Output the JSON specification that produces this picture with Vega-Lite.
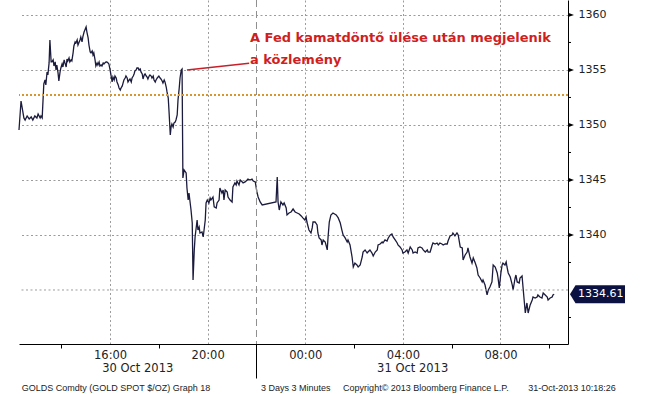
{
"$schema": "https://vega.github.io/schema/vega-lite/v6.json",
"width": 549, "height": 344,
"autosize": {"type": "none"},
"padding": {"left": 19, "top": 0, "right": 77, "bottom": 50},
"background": "white",
"config": {"view": {"stroke": null}, "font": "DejaVu Sans"},
"datasets": {
"gold": [
{"t":"2013-10-30T12:16Z","v":1349.55},{"t":"2013-10-30T12:21Z","v":1352.18},{"t":"2013-10-30T12:28Z","v":1350.64},{"t":"2013-10-30T12:31Z","v":1350.45},{"t":"2013-10-30T12:36Z","v":1350.82},{"t":"2013-10-30T12:41Z","v":1350.55},{"t":"2013-10-30T12:46Z","v":1350.73},{"t":"2013-10-30T12:50Z","v":1350.45},{"t":"2013-10-30T12:55Z","v":1350.82},{"t":"2013-10-30T13:00Z","v":1350.64},{"t":"2013-10-30T13:03Z","v":1351.00},{"t":"2013-10-30T13:08Z","v":1350.64},{"t":"2013-10-30T13:10Z","v":1350.82},{"t":"2013-10-30T13:13Z","v":1350.64},
{"t":"2013-10-30T13:17Z","v":1353.73},{"t":"2013-10-30T13:20Z","v":1354.09},{"t":"2013-10-30T13:22Z","v":1353.64},{"t":"2013-10-30T13:25Z","v":1354.82},{"t":"2013-10-30T13:27Z","v":1354.55},{"t":"2013-10-30T13:30Z","v":1355.64},{"t":"2013-10-30T13:32Z","v":1357.73},{"t":"2013-10-30T13:35Z","v":1355.73},{"t":"2013-10-30T13:37Z","v":1355.73},{"t":"2013-10-30T13:40Z","v":1355.91},{"t":"2013-10-30T13:42Z","v":1355.36},{"t":"2013-10-30T13:45Z","v":1355.73},{"t":"2013-10-30T13:47Z","v":1355.00},{"t":"2013-10-30T13:49Z","v":1355.45},{"t":"2013-10-30T13:52Z","v":1354.73},{"t":"2013-10-30T13:54Z","v":1354.00},{"t":"2013-10-30T13:57Z","v":1354.82},{"t":"2013-10-30T13:59Z","v":1355.18},
{"t":"2013-10-30T14:02Z","v":1355.55},{"t":"2013-10-30T14:04Z","v":1355.27},{"t":"2013-10-30T14:07Z","v":1355.91},{"t":"2013-10-30T14:09Z","v":1355.64},{"t":"2013-10-30T14:12Z","v":1355.27},{"t":"2013-10-30T14:14Z","v":1356.00},{"t":"2013-10-30T14:16Z","v":1355.82},{"t":"2013-10-30T14:19Z","v":1356.09},{"t":"2013-10-30T14:21Z","v":1355.73},{"t":"2013-10-30T14:24Z","v":1355.91},{"t":"2013-10-30T14:26Z","v":1355.82},{"t":"2013-10-30T14:29Z","v":1356.55},{"t":"2013-10-30T14:31Z","v":1357.18},{"t":"2013-10-30T14:34Z","v":1357.55},{"t":"2013-10-30T14:36Z","v":1357.45},{"t":"2013-10-30T14:39Z","v":1357.73},{"t":"2013-10-30T14:41Z","v":1357.27},{"t":"2013-10-30T14:44Z","v":1357.55},{"t":"2013-10-30T14:46Z","v":1357.73},{"t":"2013-10-30T14:48Z","v":1358.00},{"t":"2013-10-30T14:51Z","v":1357.55},{"t":"2013-10-30T14:53Z","v":1358.00},{"t":"2013-10-30T14:56Z","v":1358.45},{"t":"2013-10-30T14:58Z","v":1358.64},
{"t":"2013-10-30T15:01Z","v":1358.91},{"t":"2013-10-30T15:03Z","v":1358.45},{"t":"2013-10-30T15:06Z","v":1357.91},{"t":"2013-10-30T15:08Z","v":1357.27},{"t":"2013-10-30T15:11Z","v":1356.64},{"t":"2013-10-30T15:13Z","v":1356.55},{"t":"2013-10-30T15:16Z","v":1356.73},{"t":"2013-10-30T15:18Z","v":1356.36},{"t":"2013-10-30T15:20Z","v":1356.55},{"t":"2013-10-30T15:23Z","v":1355.91},{"t":"2013-10-30T15:25Z","v":1355.36},{"t":"2013-10-30T15:28Z","v":1355.64},{"t":"2013-10-30T15:30Z","v":1355.45},{"t":"2013-10-30T15:33Z","v":1355.73},{"t":"2013-10-30T15:35Z","v":1355.36},{"t":"2013-10-30T15:38Z","v":1355.45},{"t":"2013-10-30T15:40Z","v":1355.36},{"t":"2013-10-30T15:43Z","v":1355.64},{"t":"2013-10-30T15:45Z","v":1355.55},{"t":"2013-10-30T15:47Z","v":1355.64},{"t":"2013-10-30T15:50Z","v":1355.73},{"t":"2013-10-30T15:52Z","v":1355.73},{"t":"2013-10-30T15:55Z","v":1355.64},{"t":"2013-10-30T15:57Z","v":1355.55},
{"t":"2013-10-30T16:00Z","v":1355.00},{"t":"2013-10-30T16:05Z","v":1353.91},{"t":"2013-10-30T16:07Z","v":1354.36},{"t":"2013-10-30T16:10Z","v":1354.09},{"t":"2013-10-30T16:12Z","v":1354.45},{"t":"2013-10-30T16:15Z","v":1354.27},{"t":"2013-10-30T16:17Z","v":1353.91},{"t":"2013-10-30T16:20Z","v":1353.64},{"t":"2013-10-30T16:22Z","v":1353.36},{"t":"2013-10-30T16:25Z","v":1353.18},{"t":"2013-10-30T16:27Z","v":1353.36},{"t":"2013-10-30T16:30Z","v":1353.55},{"t":"2013-10-30T16:32Z","v":1353.82},{"t":"2013-10-30T16:34Z","v":1354.09},{"t":"2013-10-30T16:37Z","v":1354.27},{"t":"2013-10-30T16:39Z","v":1354.45},{"t":"2013-10-30T16:42Z","v":1354.27},{"t":"2013-10-30T16:44Z","v":1353.91},{"t":"2013-10-30T16:47Z","v":1354.09},{"t":"2013-10-30T16:49Z","v":1354.18},{"t":"2013-10-30T16:52Z","v":1353.91},{"t":"2013-10-30T16:54Z","v":1354.27},{"t":"2013-10-30T16:57Z","v":1354.45},{"t":"2013-10-30T16:59Z","v":1354.64},
{"t":"2013-10-30T17:01Z","v":1354.91},{"t":"2013-10-30T17:04Z","v":1355.00},{"t":"2013-10-30T17:06Z","v":1355.18},{"t":"2013-10-30T17:09Z","v":1355.18},{"t":"2013-10-30T17:11Z","v":1355.00},{"t":"2013-10-30T17:14Z","v":1355.09},{"t":"2013-10-30T17:16Z","v":1354.82},{"t":"2013-10-30T17:19Z","v":1354.64},{"t":"2013-10-30T17:21Z","v":1354.18},{"t":"2013-10-30T17:24Z","v":1354.55},{"t":"2013-10-30T17:26Z","v":1354.64},{"t":"2013-10-30T17:29Z","v":1354.45},{"t":"2013-10-30T17:31Z","v":1354.36},{"t":"2013-10-30T17:33Z","v":1354.18},{"t":"2013-10-30T17:36Z","v":1354.45},{"t":"2013-10-30T17:38Z","v":1354.55},{"t":"2013-10-30T17:41Z","v":1354.45},{"t":"2013-10-30T17:43Z","v":1354.27},{"t":"2013-10-30T17:46Z","v":1354.45},{"t":"2013-10-30T17:48Z","v":1354.09},{"t":"2013-10-30T17:51Z","v":1353.91},{"t":"2013-10-30T17:53Z","v":1354.09},{"t":"2013-10-30T17:56Z","v":1354.27},{"t":"2013-10-30T17:58Z","v":1354.36},
{"t":"2013-10-30T18:00Z","v":1354.45},{"t":"2013-10-30T18:03Z","v":1354.27},{"t":"2013-10-30T18:05Z","v":1354.18},{"t":"2013-10-30T18:08Z","v":1354.00},{"t":"2013-10-30T18:10Z","v":1353.82},{"t":"2013-10-30T18:13Z","v":1354.09},{"t":"2013-10-30T18:15Z","v":1353.91},{"t":"2013-10-30T18:18Z","v":1353.45},{"t":"2013-10-30T18:20Z","v":1353.00},{"t":"2013-10-30T18:23Z","v":1352.45},{"t":"2013-10-30T18:25Z","v":1351.18},{"t":"2013-10-30T18:28Z","v":1349.09},{"t":"2013-10-30T18:30Z","v":1349.82},{"t":"2013-10-30T18:32Z","v":1350.09},{"t":"2013-10-30T18:35Z","v":1349.82},{"t":"2013-10-30T18:37Z","v":1350.18},{"t":"2013-10-30T18:40Z","v":1350.27},{"t":"2013-10-30T18:42Z","v":1350.45},{"t":"2013-10-30T18:45Z","v":1350.91},{"t":"2013-10-30T18:47Z","v":1352.27},{"t":"2013-10-30T18:50Z","v":1353.36},{"t":"2013-10-30T18:52Z","v":1354.27},{"t":"2013-10-30T18:55Z","v":1355.00},{"t":"2013-10-30T18:57Z","v":1355.09},
{"t":"2013-10-30T18:59Z","v":1345.18},{"t":"2013-10-30T19:02Z","v":1345.91},{"t":"2013-10-30T19:07Z","v":1345.64},{"t":"2013-10-30T19:09Z","v":1344.27},{"t":"2013-10-30T19:12Z","v":1343.18},{"t":"2013-10-30T19:14Z","v":1343.82},{"t":"2013-10-30T19:19Z","v":1342.27},{"t":"2013-10-30T19:22Z","v":1341.09},{"t":"2013-10-30T19:24Z","v":1335.91},{"t":"2013-10-30T19:27Z","v":1338.64},{"t":"2013-10-30T19:29Z","v":1339.82},{"t":"2013-10-30T19:34Z","v":1341.36},{"t":"2013-10-30T19:36Z","v":1340.45},{"t":"2013-10-30T19:39Z","v":1340.73},{"t":"2013-10-30T19:41Z","v":1340.18},{"t":"2013-10-30T19:46Z","v":1340.27},{"t":"2013-10-30T19:49Z","v":1339.82},{"t":"2013-10-30T19:54Z","v":1341.36},{"t":"2013-10-30T19:56Z","v":1342.91},{"t":"2013-10-30T19:59Z","v":1343.18},
{"t":"2013-10-30T20:03Z","v":1342.91},{"t":"2013-10-30T20:06Z","v":1343.36},{"t":"2013-10-30T20:08Z","v":1343.18},{"t":"2013-10-30T20:13Z","v":1343.45},{"t":"2013-10-30T20:16Z","v":1342.55},{"t":"2013-10-30T20:21Z","v":1342.45},{"t":"2013-10-30T20:23Z","v":1342.91},{"t":"2013-10-30T20:28Z","v":1343.18},{"t":"2013-10-30T20:30Z","v":1344.27},{"t":"2013-10-30T20:35Z","v":1343.82},{"t":"2013-10-30T20:38Z","v":1344.09},{"t":"2013-10-30T20:40Z","v":1343.18},{"t":"2013-10-30T20:43Z","v":1344.09},{"t":"2013-10-30T20:48Z","v":1343.91},{"t":"2013-10-30T20:50Z","v":1343.45},{"t":"2013-10-30T20:55Z","v":1343.18},
{"t":"2013-10-30T21:00Z","v":1343.00},{"t":"2013-10-30T21:02Z","v":1344.36},{"t":"2013-10-30T21:07Z","v":1344.73},{"t":"2013-10-30T21:10Z","v":1344.55},{"t":"2013-10-30T21:12Z","v":1344.91},{"t":"2013-10-30T21:17Z","v":1344.55},{"t":"2013-10-30T21:20Z","v":1345.00},{"t":"2013-10-30T21:25Z","v":1344.82},{"t":"2013-10-30T21:27Z","v":1344.73},{"t":"2013-10-30T21:32Z","v":1344.82},{"t":"2013-10-30T21:37Z","v":1345.00},{"t":"2013-10-30T21:39Z","v":1345.09},{"t":"2013-10-30T21:44Z","v":1345.00},{"t":"2013-10-30T21:49Z","v":1345.09},{"t":"2013-10-30T21:52Z","v":1344.91},{"t":"2013-10-30T21:57Z","v":1344.82},
{"t":"2013-10-30T22:01Z","v":1343.91},{"t":"2013-10-30T22:04Z","v":1343.45},{"t":"2013-10-30T22:09Z","v":1343.00},{"t":"2013-10-30T22:14Z","v":1342.73},{"t":"2013-10-30T22:48Z","v":1343.00},{"t":"2013-10-30T22:51Z","v":1345.27},{"t":"2013-10-30T22:53Z","v":1343.00},{"t":"2013-10-30T22:56Z","v":1342.27},{"t":"2013-10-30T23:00Z","v":1343.00},{"t":"2013-10-30T23:05Z","v":1342.73},{"t":"2013-10-30T23:08Z","v":1342.91},{"t":"2013-10-30T23:13Z","v":1342.45},{"t":"2013-10-30T23:15Z","v":1341.82},{"t":"2013-10-30T23:20Z","v":1342.00},{"t":"2013-10-30T23:25Z","v":1342.09},{"t":"2013-10-30T23:30Z","v":1342.36},{"t":"2013-10-30T23:35Z","v":1342.09},{"t":"2013-10-30T23:40Z","v":1342.00},{"t":"2013-10-30T23:45Z","v":1341.91},{"t":"2013-10-30T23:50Z","v":1341.73},{"t":"2013-10-30T23:54Z","v":1341.55},{"t":"2013-10-30T23:59Z","v":1341.36},
{"t":"2013-10-31T00:02Z","v":1341.64},{"t":"2013-10-31T00:04Z","v":1341.18},{"t":"2013-10-31T00:09Z","v":1340.45},{"t":"2013-10-31T00:14Z","v":1340.18},{"t":"2013-10-31T00:17Z","v":1340.64},{"t":"2013-10-31T00:19Z","v":1341.18},{"t":"2013-10-31T00:24Z","v":1341.18},{"t":"2013-10-31T00:29Z","v":1340.91},{"t":"2013-10-31T00:31Z","v":1340.18},{"t":"2013-10-31T00:34Z","v":1339.73},{"t":"2013-10-31T00:39Z","v":1339.55},{"t":"2013-10-31T00:41Z","v":1339.09},{"t":"2013-10-31T00:44Z","v":1339.55},{"t":"2013-10-31T00:49Z","v":1339.36},{"t":"2013-10-31T00:54Z","v":1338.64},{"t":"2013-10-31T00:56Z","v":1339.82},{"t":"2013-10-31T00:59Z","v":1341.18},
{"t":"2013-10-31T01:03Z","v":1341.82},{"t":"2013-10-31T01:08Z","v":1342.00},{"t":"2013-10-31T01:16Z","v":1341.82},{"t":"2013-10-31T01:21Z","v":1341.55},{"t":"2013-10-31T01:26Z","v":1341.09},{"t":"2013-10-31T01:30Z","v":1340.45},{"t":"2013-10-31T01:33Z","v":1340.00},{"t":"2013-10-31T01:38Z","v":1339.73},{"t":"2013-10-31T01:43Z","v":1339.36},{"t":"2013-10-31T01:45Z","v":1339.55},{"t":"2013-10-31T01:50Z","v":1339.09},{"t":"2013-10-31T01:55Z","v":1338.00},{"t":"2013-10-31T01:58Z","v":1337.09},
{"t":"2013-10-31T02:00Z","v":1337.27},{"t":"2013-10-31T02:02Z","v":1337.45},{"t":"2013-10-31T02:07Z","v":1337.27},{"t":"2013-10-31T02:10Z","v":1337.09},{"t":"2013-10-31T02:15Z","v":1337.27},{"t":"2013-10-31T02:20Z","v":1338.00},{"t":"2013-10-31T02:22Z","v":1338.45},{"t":"2013-10-31T02:27Z","v":1338.64},{"t":"2013-10-31T02:32Z","v":1338.36},{"t":"2013-10-31T02:34Z","v":1338.45},{"t":"2013-10-31T02:39Z","v":1338.64},{"t":"2013-10-31T02:44Z","v":1338.36},{"t":"2013-10-31T02:47Z","v":1338.09},{"t":"2013-10-31T02:52Z","v":1338.45},{"t":"2013-10-31T02:57Z","v":1338.64},{"t":"2013-10-31T02:59Z","v":1339.09},
{"t":"2013-10-31T03:04Z","v":1339.18},{"t":"2013-10-31T03:09Z","v":1339.36},{"t":"2013-10-31T03:11Z","v":1339.27},{"t":"2013-10-31T03:16Z","v":1339.55},{"t":"2013-10-31T03:21Z","v":1339.45},{"t":"2013-10-31T03:24Z","v":1339.73},{"t":"2013-10-31T03:29Z","v":1340.00},{"t":"2013-10-31T03:33Z","v":1340.09},{"t":"2013-10-31T03:36Z","v":1339.82},{"t":"2013-10-31T03:41Z","v":1339.55},{"t":"2013-10-31T03:46Z","v":1339.27},{"t":"2013-10-31T03:48Z","v":1339.09},{"t":"2013-10-31T03:53Z","v":1338.91},{"t":"2013-10-31T03:58Z","v":1338.64},
{"t":"2013-10-31T04:00Z","v":1338.36},{"t":"2013-10-31T04:05Z","v":1338.45},{"t":"2013-10-31T04:10Z","v":1338.64},{"t":"2013-10-31T04:13Z","v":1338.36},{"t":"2013-10-31T04:18Z","v":1338.91},{"t":"2013-10-31T04:23Z","v":1338.64},{"t":"2013-10-31T04:25Z","v":1338.36},{"t":"2013-10-31T04:30Z","v":1338.45},{"t":"2013-10-31T04:35Z","v":1338.36},{"t":"2013-10-31T04:37Z","v":1338.82},{"t":"2013-10-31T04:42Z","v":1338.91},{"t":"2013-10-31T04:47Z","v":1338.82},{"t":"2013-10-31T04:50Z","v":1338.64},{"t":"2013-10-31T04:55Z","v":1338.45},
{"t":"2013-10-31T05:00Z","v":1338.64},{"t":"2013-10-31T05:02Z","v":1338.45},{"t":"2013-10-31T05:07Z","v":1338.45},{"t":"2013-10-31T05:12Z","v":1339.09},{"t":"2013-10-31T05:14Z","v":1339.27},{"t":"2013-10-31T05:19Z","v":1339.18},{"t":"2013-10-31T05:24Z","v":1339.27},{"t":"2013-10-31T05:27Z","v":1339.09},{"t":"2013-10-31T05:31Z","v":1339.27},{"t":"2013-10-31T05:36Z","v":1339.18},{"t":"2013-10-31T05:39Z","v":1339.09},{"t":"2013-10-31T05:44Z","v":1339.18},{"t":"2013-10-31T05:49Z","v":1339.18},{"t":"2013-10-31T05:51Z","v":1339.45},{"t":"2013-10-31T05:56Z","v":1339.91},
{"t":"2013-10-31T06:01Z","v":1340.00},{"t":"2013-10-31T06:03Z","v":1340.18},{"t":"2013-10-31T06:08Z","v":1339.91},{"t":"2013-10-31T06:13Z","v":1340.18},{"t":"2013-10-31T06:16Z","v":1340.00},{"t":"2013-10-31T06:21Z","v":1338.91},{"t":"2013-10-31T06:26Z","v":1338.82},{"t":"2013-10-31T06:28Z","v":1337.73},{"t":"2013-10-31T06:33Z","v":1338.18},{"t":"2013-10-31T06:38Z","v":1338.45},{"t":"2013-10-31T06:40Z","v":1338.82},{"t":"2013-10-31T06:45Z","v":1338.00},{"t":"2013-10-31T06:50Z","v":1337.45},{"t":"2013-10-31T06:53Z","v":1337.91},{"t":"2013-10-31T06:58Z","v":1337.45},
{"t":"2013-10-31T07:02Z","v":1337.00},{"t":"2013-10-31T07:05Z","v":1336.36},{"t":"2013-10-31T07:10Z","v":1336.09},{"t":"2013-10-31T07:15Z","v":1335.73},{"t":"2013-10-31T07:17Z","v":1335.91},{"t":"2013-10-31T07:22Z","v":1335.45},{"t":"2013-10-31T07:27Z","v":1334.55},{"t":"2013-10-31T07:30Z","v":1335.00},{"t":"2013-10-31T07:34Z","v":1335.27},{"t":"2013-10-31T07:39Z","v":1335.73},{"t":"2013-10-31T07:42Z","v":1337.27},{"t":"2013-10-31T07:47Z","v":1337.09},{"t":"2013-10-31T07:52Z","v":1336.55},{"t":"2013-10-31T07:54Z","v":1336.09},{"t":"2013-10-31T07:57Z","v":1335.18},
{"t":"2013-10-31T08:01Z","v":1336.55},{"t":"2013-10-31T08:04Z","v":1337.27},{"t":"2013-10-31T08:06Z","v":1337.45},{"t":"2013-10-31T08:11Z","v":1337.27},{"t":"2013-10-31T08:14Z","v":1337.55},{"t":"2013-10-31T08:16Z","v":1337.09},{"t":"2013-10-31T08:19Z","v":1336.55},{"t":"2013-10-31T08:24Z","v":1336.18},{"t":"2013-10-31T08:29Z","v":1335.45},{"t":"2013-10-31T08:31Z","v":1335.00},{"t":"2013-10-31T08:36Z","v":1336.09},{"t":"2013-10-31T08:38Z","v":1336.36},{"t":"2013-10-31T08:41Z","v":1335.73},{"t":"2013-10-31T08:46Z","v":1335.64},{"t":"2013-10-31T08:48Z","v":1336.09},{"t":"2013-10-31T08:53Z","v":1336.27},{"t":"2013-10-31T08:56Z","v":1335.00},
{"t":"2013-10-31T09:01Z","v":1332.91},{"t":"2013-10-31T09:05Z","v":1333.82},{"t":"2013-10-31T09:08Z","v":1332.91},{"t":"2013-10-31T09:13Z","v":1333.64},{"t":"2013-10-31T09:18Z","v":1334.09},{"t":"2013-10-31T09:20Z","v":1334.36},{"t":"2013-10-31T09:25Z","v":1334.27},{"t":"2013-10-31T09:30Z","v":1334.36},{"t":"2013-10-31T09:32Z","v":1334.55},{"t":"2013-10-31T09:37Z","v":1334.36},{"t":"2013-10-31T09:42Z","v":1334.27},{"t":"2013-10-31T09:45Z","v":1334.73},{"t":"2013-10-31T09:50Z","v":1334.55},{"t":"2013-10-31T09:55Z","v":1334.36},{"t":"2013-10-31T09:57Z","v":1334.09},
{"t":"2013-10-31T10:02Z","v":1334.27},{"t":"2013-10-31T10:07Z","v":1334.36},{"t":"2013-10-31T10:09Z","v":1334.55},{"t":"2013-10-31T10:12Z","v":1334.61}
],
"majors": [{"v":1340},{"v":1345},{"v":1350},{"v":1355},{"v":1360}],
"minors": [{"v":1332.5},{"v":1337.5},{"v":1342.5},{"v":1347.5},{"v":1352.5},{"v":1357.5}]
},
"layer": [
{
 "data": {"name": "gold"},
 "mark": {"type": "line", "color": "#1b1b3d", "strokeWidth": 1.3, "interpolate": "linear"},
 "encoding": {
  "x": {"field": "t", "type": "temporal",
   "scale": {"type": "utc", "domain": [{"year":2013,"month":10,"date":30,"hours":12,"minutes":16,"utc":true},{"year":2013,"month":10,"date":31,"hours":10,"minutes":46,"utc":true}]},
   "axis": {
    "title": null,
    "values": [
     {"year":2013,"month":10,"date":30,"hours":14,"utc":true},{"year":2013,"month":10,"date":30,"hours":16,"utc":true},{"year":2013,"month":10,"date":30,"hours":18,"utc":true},{"year":2013,"month":10,"date":30,"hours":20,"utc":true},{"year":2013,"month":10,"date":30,"hours":22,"utc":true},
     {"year":2013,"month":10,"date":31,"hours":0,"utc":true},{"year":2013,"month":10,"date":31,"hours":2,"utc":true},{"year":2013,"month":10,"date":31,"hours":4,"utc":true},{"year":2013,"month":10,"date":31,"hours":6,"utc":true},{"year":2013,"month":10,"date":31,"hours":8,"utc":true},{"year":2013,"month":10,"date":31,"hours":10,"utc":true}],
    "domainColor": "#000", "domainWidth": 1,
    "grid": true, "gridColor": "#9c9c9c", "gridDash": [2, 2.5], "gridWidth": 1,
    "gridOpacity": {"condition": {"test": "utchours(datum.value) % 4 == 0", "value": 1}, "value": 0},
    "ticks": true, "tickColor": "#000", "tickWidth": 1,
    "tickSize": {"condition": {"test": "utchours(datum.value) == 22", "value": 34}, "value": 4},
    "tickOpacity": {"condition": {"test": "utchours(datum.value) % 4 == 2", "value": 1}, "value": 0},
    "labelExpr": "utchours(datum.value) % 4 == 0 ? utcFormat(datum.value, '%H:%M') : ''",
    "labelFont": "DejaVu Sans", "labelFontSize": 11.5, "labelColor": "#222",
    "labelPadding": 1, "labelFlush": false, "labelOverlap": false
   }},
  "y": {"field": "v", "type": "quantitative",
   "scale": {"domain": [1330.09, 1361.36], "nice": false, "zero": false},
   "axis": {
    "title": null, "orient": "right",
    "values": [1340, 1345, 1350, 1355, 1360],
    "format": "d",
    "domainColor": "#000", "domainWidth": 1,
    "grid": true, "gridColor": "#9c9c9c", "gridDash": [2, 2.5], "gridWidth": 1,
    "ticks": false,
    "labelFont": "DejaVu Sans", "labelFontSize": 11, "labelColor": "#222",
    "labelPadding": 10, "labelOverlap": false, "labelFlush": false
   }}
 }
},
{
 "data": {"values": [{}]},
 "mark": {"type": "rule", "color": "#9c9c9c", "strokeWidth": 1, "strokeDash": [2, 2.5]},
 "encoding": {"y": {"datum": 1335, "type": "quantitative"}}
},
{
 "data": {"values": [{}]},
 "mark": {"type": "rule", "color": "#d9962c", "strokeWidth": 2, "strokeDash": [2, 2]},
 "encoding": {"y": {"datum": 1352.73, "type": "quantitative"}}
},
{
 "data": {"values": [{}]},
 "mark": {"type": "rule", "color": "#8f8f8f", "strokeWidth": 1, "strokeDash": [7, 4]},
 "encoding": {"x": {"datum": {"year":2013,"month":10,"date":30,"hours":22,"utc":true}, "type": "temporal"}}
},
{
 "data": {"values": [{}]},
 "mark": {"type": "rule", "color": "#c8202a", "strokeWidth": 1.5},
 "encoding": {
  "x": {"datum": {"year":2013,"month":10,"date":30,"hours":19,"minutes":9,"utc":true}, "type": "temporal"},
  "y": {"datum": 1355.0, "type": "quantitative"},
  "x2": {"datum": {"year":2013,"month":10,"date":30,"hours":21,"minutes":42,"utc":true}},
  "y2": {"datum": 1355.61}
 }
},
{
 "data": {"values": [{}]},
 "mark": {"type": "text", "font": "DejaVu Sans", "fontSize": 13, "fontWeight": "bold", "color": "#cf1f1f", "align": "left", "baseline": "alphabetic", "lineHeight": 22},
 "encoding": {
  "x": {"datum": {"year":2013,"month":10,"date":30,"hours":21,"minutes":44,"utc":true}, "type": "temporal"},
  "y": {"datum": 1357.55, "type": "quantitative"},
  "text": {"value": ["A Fed kamatdöntő ülése után megjelenik", "a közlemény"]}
 }
},
{
 "data": {"name": "majors"},
 "mark": {"type": "point", "shape": "M0,-0.36L1,0L0,0.36Z", "size": 144, "filled": true, "color": "#000", "opacity": 1, "strokeWidth": 0},
 "encoding": {
  "x": {"datum": {"year":2013,"month":10,"date":31,"hours":10,"minutes":46,"utc":true}, "type": "temporal"},
  "y": {"field": "v", "type": "quantitative"}
 }
},
{
 "data": {"name": "minors"},
 "mark": {"type": "point", "shape": "M0,0L1,0", "size": 36, "filled": false, "color": "#000", "opacity": 1, "strokeWidth": 1},
 "encoding": {
  "x": {"datum": {"year":2013,"month":10,"date":31,"hours":10,"minutes":46,"utc":true}, "type": "temporal"},
  "y": {"field": "v", "type": "quantitative"}
 }
},
{
 "data": {"values": [{}]},
 "mark": {"type": "point", "shape": "M0,0L0.2,-0.33L2,-0.33L2,0.33L0.2,0.33Z", "size": 3025, "filled": true, "color": "#0b1242", "opacity": 1, "strokeWidth": 0, "xOffset": 2},
 "encoding": {
  "x": {"datum": {"year":2013,"month":10,"date":31,"hours":10,"minutes":46,"utc":true}, "type": "temporal"},
  "y": {"datum": 1334.61, "type": "quantitative"}
 }
},
{
 "data": {"values": [{}]},
 "mark": {"type": "text", "font": "DejaVu Sans", "fontSize": 11, "color": "#ffffff", "align": "left", "baseline": "middle", "dx": 10},
 "encoding": {
  "x": {"datum": {"year":2013,"month":10,"date":31,"hours":10,"minutes":46,"utc":true}, "type": "temporal"},
  "y": {"datum": 1334.61, "type": "quantitative"},
  "text": {"value": "1334.61"}
 }
},
{
 "data": {"values": [{}]},
 "mark": {"type": "text", "font": "DejaVu Sans", "fontSize": 11.5, "color": "#222", "align": "center", "baseline": "middle"},
 "encoding": {
  "x": {"datum": {"year":2013,"month":10,"date":30,"hours":17,"minutes":8,"utc":true}, "type": "temporal"},
  "y": {"datum": 1327.82, "type": "quantitative"},
  "text": {"value": "30 Oct 2013"}
 }
},
{
 "data": {"values": [{}]},
 "mark": {"type": "text", "font": "DejaVu Sans", "fontSize": 11.5, "color": "#222", "align": "center", "baseline": "middle"},
 "encoding": {
  "x": {"datum": {"year":2013,"month":10,"date":31,"hours":4,"minutes":24,"utc":true}, "type": "temporal"},
  "y": {"datum": 1327.82, "type": "quantitative"},
  "text": {"value": "31 Oct 2013"}
 }
},
{
 "data": {"values": [{}]},
 "mark": {"type": "text", "font": "Liberation Sans", "fontSize": 9, "color": "#222", "align": "left", "baseline": "middle"},
 "encoding": {
  "x": {"datum": {"year":2013,"month":10,"date":30,"hours":12,"minutes":23,"utc":true}, "type": "temporal"},
  "y": {"datum": 1326.09, "type": "quantitative"},
  "text": {"value": "GOLDS Comdty (GOLD SPOT $/OZ) Graph 18"}
 }
},
{
 "data": {"values": [{}]},
 "mark": {"type": "text", "font": "Liberation Sans", "fontSize": 9, "color": "#222", "align": "left", "baseline": "middle"},
 "encoding": {
  "x": {"datum": {"year":2013,"month":10,"date":30,"hours":22,"minutes":11,"utc":true}, "type": "temporal"},
  "y": {"datum": 1326.09, "type": "quantitative"},
  "text": {"value": "3 Days 3 Minutes"}
 }
},
{
 "data": {"values": [{}]},
 "mark": {"type": "text", "font": "Liberation Sans", "fontSize": 9, "color": "#222", "align": "left", "baseline": "middle"},
 "encoding": {
  "x": {"datum": {"year":2013,"month":10,"date":31,"hours":1,"minutes":33,"utc":true}, "type": "temporal"},
  "y": {"datum": 1326.09, "type": "quantitative"},
  "text": {"value": "Copyright© 2013 Bloomberg Finance L.P."}
 }
},
{
 "data": {"values": [{}]},
 "mark": {"type": "text", "font": "Liberation Sans", "fontSize": 9, "color": "#222", "align": "left", "baseline": "middle"},
 "encoding": {
  "x": {"datum": {"year":2013,"month":10,"date":31,"hours":9,"minutes":8,"utc":true}, "type": "temporal"},
  "y": {"datum": 1326.09, "type": "quantitative"},
  "text": {"value": "31-Oct-2013 10:18:26"}
 }
}
]
}
